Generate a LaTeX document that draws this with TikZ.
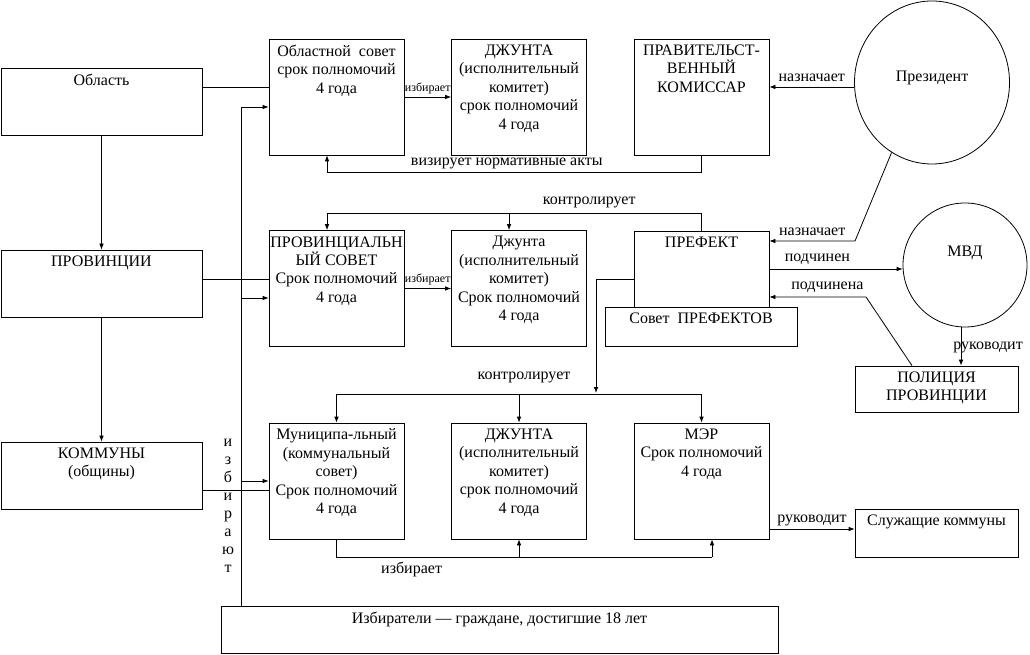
\documentclass[tikz,border=0pt]{standalone}
\usepackage{fontspec}
\setmainfont{Liberation Serif}
\usetikzlibrary{arrows.meta,shapes.geometric}

\begin{document}
\begin{tikzpicture}[
            x=0.75pt, y=-0.75pt,
            font=\fontsize{12}{13.8}\selectfont,
            line width=0.6pt,
            >={Latex[length=4.5pt,width=3.5pt]},
            head/.style={anchor=north, align=center, inner sep=4.5pt},
            level/.style={rectangle, draw, inner sep=0pt, minimum width=150.75pt, minimum height=50.25pt},
            organ/.style={rectangle, draw, inner sep=0pt, minimum width=101.25pt, minimum height=87pt},
            side/.style={rectangle, draw, inner sep=0pt, minimum width=122.25pt, minimum height=35pt},
            ring/.style={ellipse, draw, inner sep=0pt},
            small/.style={font=\fontsize{9}{10}\selectfont, inner sep=1pt}
        ]
        \useasboundingbox (0,0) rectangle (1030,655);

        % Уровни
        \node[level, label={[head]north:{Область}}] (oblast) at (101.5,101.5) {};
        \node[level, label={[head]north:{ПРОВИНЦИИ}}] (prov) at (101.5,283.5) {};
        \node[level, label={[head]north:{КОММУНЫ\\(общины)}}] (komm) at (101.5,475.5) {};

        % Область
        \node[organ, label={[head]north:{Областной~~совет\\срок полномочий\\4 года}}] (osovet) at (336.5,97) {};
        \node[organ, label={[head]north:{ДЖУНТА\\(исполнительный\\комитет)\\срок полномочий\\4 года}}] (ojunta) at (519,97) {};
        \node[organ, label={[head]north:{ПРАВИТЕЛЬСТ-\\ВЕННЫЙ\\КОМИССАР}}] (komissar) at (701.5,97) {};
        \node[ring, minimum width=116.25pt, minimum height=122.25pt, text depth=10pt] (president) at (932,82.5) {Президент};

        % Провинция
        \node[organ, label={[head]north:{ПРОВИНЦИАЛЬН\\ЫЙ СОВЕТ\\Срок полномочий\\4 года}}] (provsovet) at (336.5,288.5) {};
        \node[organ, label={[head]north:{Джунта\\(исполнительный\\комитет)\\Срок полномочий\\4 года}}] (pjunta) at (519,288.5) {};
        \node[rectangle, draw, inner sep=0pt, minimum width=101.25pt, minimum height=57pt, label={[head]north:{ПРЕФЕКТ}}] (prefekt) at (701.5,269) {};
        \node[rectangle, draw, inner sep=0pt, minimum width=144pt, minimum height=29.25pt, label={[head]north:{Совет~~ПРЕФЕКТОВ}}] (sovetpref) at (701,326.5) {};
        \node[ring, minimum width=93pt, minimum height=93pt, text depth=20pt] (mvd) at (965,265) {МВД};
        \node[side, minimum height=34.5pt, label={[head]north:{ПОЛИЦИЯ\\ПРОВИНЦИИ}}] (police) at (936.5,389) {};

        % Коммуна
        \node[organ, label={[head]north:{Муниципа-льный\\(коммунальный\\совет)\\Срок полномочий\\4 года}}] (msovet) at (336.5,481) {};
        \node[organ, label={[head]north:{ДЖУНТА\\(исполнительный\\комитет)\\срок полномочий\\4 года}}] (mjunta) at (519,481) {};
        \node[organ, label={[head]north:{МЭР\\Срок полномочий\\4 года}}] (mer) at (701.5,481) {};
        \node[side, minimum height=36pt, label={[head]north:{Служащие коммуны}}] (sluzh) at (936.5,533) {};

        % Избиратели
        \node[rectangle, draw, inner sep=0pt, minimum width=417.75pt, minimum height=35.25pt, label={[head]north:{Избиратели — граждане, достигшие 18 лет}}] (izbir) at (499.5,629.5) {};
        \node[align=center, font=\fontsize{12}{13.5}\selectfont] (izbirayut) at (228,506) {и\\з\\б\\и\\р\\а\\ю\\т};

        % Связи
        \draw[->] (oblast) -- (prov);
        \draw[->] (prov) -- (komm);
        \draw (oblast.east |- 0,87) -- (osovet.west |- 0,87);
        \draw (prov.east |- 0,279) -- (provsovet.west |- 0,279);
        \draw (komm.east |- 0,490) -- (msovet.west |- 0,490);

        \coordinate (bus) at (241,107);
        \draw[->] (izbir.north -| bus) -- (bus) -- (osovet.west |- bus);
        \draw[->] (241,298) -- (provsovet.west |- 0,298);
        \draw[->] (241,481) -- (msovet.west |- 0,481);

        \draw[->] (osovet) -- (ojunta) node[small, midway, above=1pt] {избирает};
        \draw[->] (provsovet) -- (pjunta) node[small, midway, above=1pt] {избирает};

        \draw[->] (komissar.south) |- (327,172) node[pos=0.76, above=-1pt] {визирует нормативные акты} -- (osovet.south -| 327,0);
        \draw[->] (president.west |- 0,87) -- (komissar.east |- 0,87) node[midway, above] {назначает};

        \draw (prefekt.north) |- (327,213) node[pos=0.65, above] {контролирует};
        \draw[->] (327,213) -- (provsovet.north -| 327,0);
        \draw[->] (509,213) -- (pjunta.north -| 509,0);

        \draw[->] (president.-120) -- (855,241) -- (prefekt.east |- 0,241) node[midway, above] {назначает};
        \draw[->] (prefekt.east) -- (mvd.west |- prefekt.east) node[pos=0.36, above] {подчинен};
        \draw[->] (police.north -| 912,0) -- (866,297) -- (prefekt.east |- 0,297) node[pos=0.4, above] {подчинена};
        \draw[->] (mvd.south -| 961,0) -- (police.north -| 961,0);
        \node (rukmvd) at (988,347) {руководит};

        \draw[->] (prefekt.west |- 0,279) -| (596,393);
        \draw (msovet.north |- 0,394) -- (mer.north |- 0,394);
        \node (kontr) at (524,377) {контролирует};
        \draw[->] (msovet.north |- 0,394) -- (msovet.north);
        \draw[->] (mjunta.north |- 0,394) -- (mjunta.north);
        \draw[->] (mer.north |- 0,394) -- (mer.north);

        \draw (msovet.south) |- (712,557) node[pos=0.6, below] {избирает};
        \draw[->] (mjunta.south |- 0,557) -- (mjunta.south);
        \draw[->] (712,557) -- (mer.south -| 712,0);
        \draw[->] (mer.east |- 0,529) -- (sluzh.west |- 0,529) node[midway, above=-1pt] {руководит};

    \end{tikzpicture}
\end{document}
